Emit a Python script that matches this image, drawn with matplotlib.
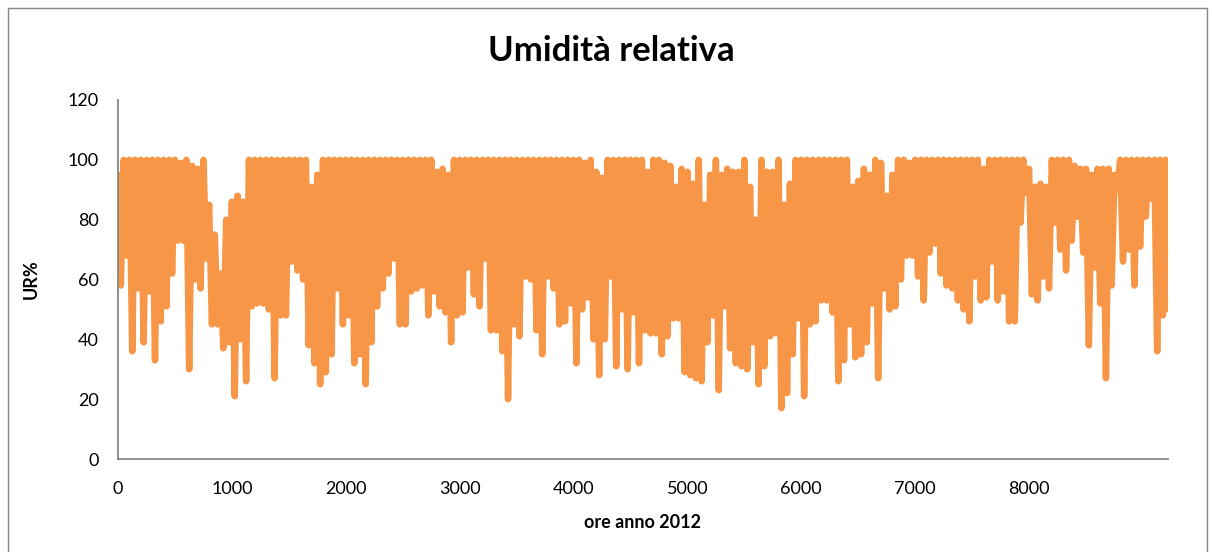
import numpy as np
import matplotlib.pyplot as plt
from matplotlib.patches import Rectangle

# Umidità relativa oraria, anno 2012: per ogni blocco di 50 ore
# il valore massimo e il minimo letti sulla traccia.
passo_ore = 50

ur_max = [
    95, 100, 100, 100, 100, 100, 100, 100, 100, 100,
    100, 99, 100, 98, 97, 100, 85, 75, 62, 80,
    86, 88, 86, 100, 100, 100, 100, 100, 100, 100,
    100, 100, 100, 100, 91, 95, 100, 100, 100, 100,
    100, 100, 100, 100, 100, 100, 100, 100, 100, 100,
    100, 100, 100, 100, 100, 100, 96, 97, 95, 100,
    100, 100, 100, 100, 100, 100, 100, 100, 100, 100,
    100, 100, 100, 100, 100, 100, 100, 100, 100, 100,
    100, 100, 99, 100, 96, 94, 100, 100, 100, 100,
    100, 100, 100, 96, 100, 100, 99, 98, 91, 97,
    96, 92, 100, 85, 95, 100, 95, 97, 96, 96,
    100, 91, 80, 100, 96, 96, 100, 85, 92, 100,
    100, 100, 100, 100, 100, 100, 100, 100, 100, 91,
    93, 97, 95, 100, 99, 88, 95, 100, 100, 99,
    100, 100, 100, 100, 100, 100, 100, 100, 100, 100,
    100, 100, 97, 100, 100, 100, 100, 100, 100, 100,
    97, 91, 92, 91, 100, 100, 100, 100, 98, 97,
    97, 95, 97, 97, 97, 95, 100, 100, 100, 100,
    100, 100, 100, 100, 100,
]

ur_min = [
    58, 68, 36, 57, 39, 56, 33, 46, 51, 62,
    73, 73, 30, 60, 57, 67, 45, 45, 37, 39,
    21, 40, 26, 51, 52, 52, 50, 27, 48, 48,
    66, 63, 60, 38, 32, 25, 29, 35, 57, 45,
    48, 32, 35, 25, 39, 51, 57, 62, 67, 45,
    45, 56, 57, 58, 48, 56, 51, 49, 39, 48,
    49, 64, 55, 51, 67, 43, 43, 36, 20, 45,
    41, 61, 60, 43, 35, 61, 57, 45, 46, 52,
    32, 50, 54, 40, 28, 40, 61, 31, 50, 30,
    49, 32, 43, 42, 42, 35, 41, 47, 47, 29,
    28, 27, 26, 39, 48, 23, 51, 37, 32, 31,
    30, 39, 25, 31, 41, 42, 17, 22, 35, 47,
    21, 45, 46, 53, 53, 49, 26, 33, 45, 34,
    35, 39, 52, 27, 57, 50, 51, 60, 68, 68,
    61, 53, 69, 72, 62, 58, 57, 53, 50, 46,
    61, 53, 54, 66, 53, 56, 46, 46, 79, 89,
    55, 53, 61, 57, 79, 70, 63, 73, 81, 69,
    38, 64, 52, 27, 58, 90, 66, 70, 58, 71,
    81, 87, 36, 48, 50,
]

x_ticks = [0, 1000, 2000, 3000, 4000, 5000, 6000, 7000, 8000]
y_ticks = [0, 20, 40, 60, 80, 100, 120]

ARANCIO = "#F79646"
GRIGIO = "#868686"

plt.rcParams["font.family"] = ["Lato", "DejaVu Sans"]

# traccia a zig-zag: massimo all'inizio del blocco, minimo a metà
ore = np.arange(len(ur_min)) * passo_ore
x = np.column_stack([ore, ore + passo_ore / 2]).ravel()
y = np.column_stack([ur_max, ur_min]).ravel()

fig = plt.figure(figsize=(12.12, 5.52), dpi=100)
ax = fig.add_axes([118 / 1212, 93 / 552, 1050 / 1212, 359 / 552])

ax.plot(x, y, color=ARANCIO, lw=4.7, solid_capstyle="round",
        solid_joinstyle="round")

ax.set_xlim(0, 9220)
ax.set_ylim(0, 120)
ax.set_xticks(x_ticks)
ax.set_yticks(y_ticks)
ax.tick_params(length=0, labelsize=13, colors="black")
ax.tick_params(axis="x", pad=16)
ax.tick_params(axis="y", pad=14)

for side in ("top", "right"):
    ax.spines[side].set_visible(False)
for side in ("left", "bottom"):
    ax.spines[side].set_color(GRIGIO)
    ax.spines[side].set_linewidth(1.3)

ax.set_xlabel("ore anno 2012", fontsize=13, fontweight="bold", labelpad=12)
ax.set_ylabel("UR%", fontsize=13, fontweight="bold", labelpad=20)
fig.text(611 / 1212, 1 - 51 / 552, "Umidità relativa", ha="center",
         va="center", fontsize=25, fontweight="bold")

# bordo dell'area del grafico
fig.patches.append(Rectangle((8 / 1212, -0.1), 1199 / 1212, 1.1 - 8 / 552,
                             transform=fig.transFigure, fill=False,
                             edgecolor=GRIGIO, lw=1.0))

fig.savefig("out.png", dpi=100)
